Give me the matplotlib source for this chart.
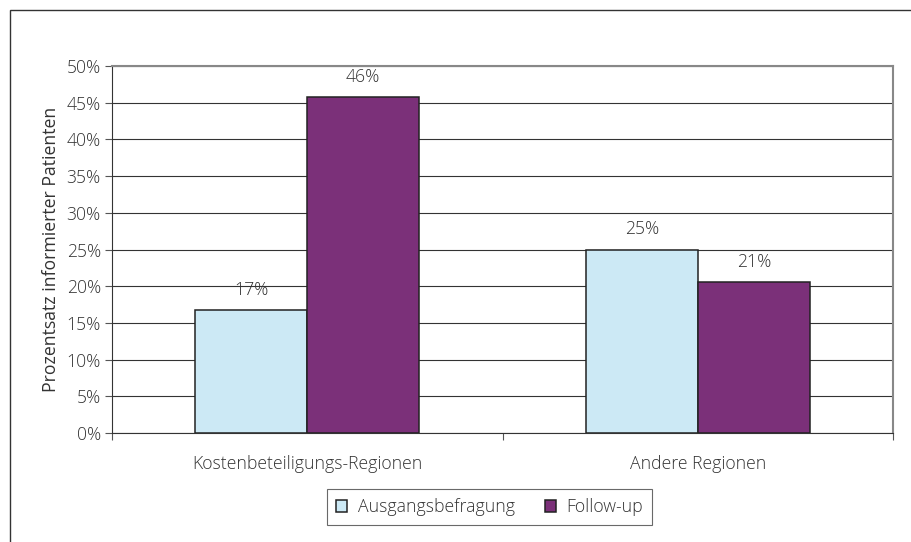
import numpy as np
import matplotlib.pyplot as plt
from matplotlib.patches import Rectangle
from matplotlib.ticker import FuncFormatter

# Anteil informierter Patienten (in %)
regionen = ["Kostenbeteiligungs-Regionen", "Andere Regionen"]
ausgang = [16.7, 25.0]
follow_up = [45.8, 20.6]
serien = ["Ausgangsbefragung", "Follow-up"]
farben = ["#cce9f5", "#7b3079"]

plt.rcParams['font.family'] = ['Open Sans', 'DejaVu Sans']
plt.rcParams['font.weight'] = 'light'
txt = "#333333"
fs = 12.7

fig = plt.figure(figsize=(9.12, 5.42), dpi=100)
ax = fig.add_axes([0.1228, 0.2011, 0.8564, 0.6771])

# Rahmen um die ganze Grafik
fig.patches.append(Rectangle((10 / 912, -0.1), 1.2, 1 - 10 / 542 + 0.1,
                             transform=fig.transFigure, fill=False,
                             edgecolor="#333333", linewidth=1.0))

x = np.arange(len(regionen))
w = 0.287
b1 = ax.bar(x - w / 2, ausgang, w, color=farben[0], edgecolor="#222222",
            linewidth=1.1, label=serien[0], zorder=3)
b2 = ax.bar(x + w / 2, follow_up, w, color=farben[1], edgecolor="#222222",
            linewidth=1.1, label=serien[1], zorder=3)

for bars, vals in ((b1, ausgang), (b2, follow_up)):
    for r, v in zip(bars, vals):
        ax.annotate(f"{v:.0f}%", (r.get_x() + r.get_width() / 2, v),
                    xytext=(0, 14.5), textcoords="offset points",
                    ha="center", va="center", fontsize=fs, color=txt)

ax.set_xlim(-0.5, 1.5)
ax.set_ylim(0, 50)
ax.set_yticks(np.arange(0, 51, 5))
ax.yaxis.set_major_formatter(FuncFormatter(lambda v, p: f"{v:.0f}%"))
ax.yaxis.grid(True, color="#333333", linewidth=0.8, zorder=0)
ax.set_axisbelow(True)

ax.set_xticks([-0.5, 0.5, 1.5])
ax.set_xticklabels([])
ax.set_xticks(x, minor=True)
ax.set_xticklabels(regionen, minor=True)
ax.tick_params(axis="x", which="minor", length=0, pad=16, labelsize=fs,
               labelcolor=txt)
ax.tick_params(axis="x", which="major", length=5, width=0.8, color="#555555")
ax.tick_params(axis="y", length=5, width=0.8, color="#555555", pad=3,
               labelsize=fs, labelcolor=txt)

for s in ("left", "bottom"):
    ax.spines[s].set_color("#333333")
    ax.spines[s].set_linewidth(0.8)
ax.spines["top"].set_color("#888888")
ax.spines["top"].set_linewidth(1.5)
ax.spines["right"].set_color("#888888")
ax.spines["right"].set_linewidth(1.5)

ax.set_ylabel("Prozentsatz informierter Patienten", fontsize=fs, color=txt,
              labelpad=5)

leg = ax.legend(loc="center", bbox_to_anchor=(489.5 / 912, 1 - 507 / 542),
                bbox_transform=fig.transFigure, ncol=2, frameon=True,
                fancybox=False, fontsize=fs, handlelength=0.65,
                handleheight=0.65, handletextpad=0.6, columnspacing=1.7,
                borderpad=0.5, labelcolor=txt)
leg.get_frame().set_edgecolor("#444444")
leg.get_frame().set_linewidth(0.8)

fig.savefig("out.png", dpi=100)
